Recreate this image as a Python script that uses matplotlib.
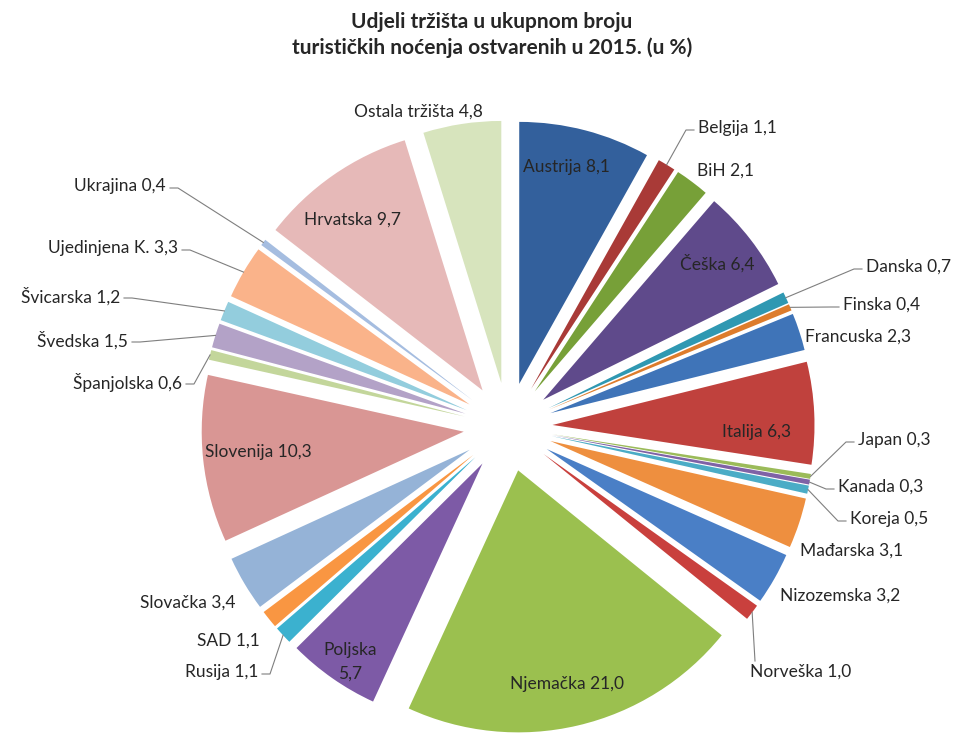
import numpy as np
import matplotlib.pyplot as plt

plt.rcParams['font.family'] = ['Lato', 'DejaVu Sans']

markets = ["Austrija", "Belgija", "BiH", "Češka", "Danska", "Finska", "Francuska",
           "Italija", "Japan", "Kanada", "Koreja", "Mađarska", "Nizozemska",
           "Norveška", "Njemačka", "Poljska", "Rusija", "SAD", "Slovačka",
           "Slovenija", "Španjolska", "Švedska", "Švicarska", "Ujedinjena K.",
           "Ukrajina", "Hrvatska", "Ostala tržišta"]
shares = [8.1, 1.1, 2.1, 6.4, 0.7, 0.4, 2.3,
          6.3, 0.3, 0.3, 0.5, 3.1, 3.2,
          1.0, 21.0, 5.7, 1.1, 1.1, 3.4,
          10.3, 0.6, 1.5, 1.2, 3.3,
          0.4, 9.7, 4.8]
colors = ["#33609c", "#a93a37", "#77a038", "#5f4a8b", "#2f98b2", "#dd7c2c", "#3f74b8",
          "#c0413d", "#9bbb59", "#7f62a6", "#4bacc6", "#ee8f3f", "#4a7fc6",
          "#c9403d", "#9bc04f", "#7d5aa6", "#3bb1cf", "#f99642", "#95b3d7",
          "#d99694", "#c3d69b", "#b3a2c7", "#93cddd", "#fab38a",
          "#a5bde0", "#e6b9b8", "#d7e4bd"]

# pie geometry in figure pixels (origin top-left)
W, H = 956, 738
CX, CY, R = 508, 427, 262
EXPLODE = 0.17

# label placement: (x, y, horizontal alignment, leader line drawn?)
layout = {
    "Austrija": (566, 167, "center", False),
    "Belgija": (698, 128, "left", True),
    "BiH": (697, 171, "left", False),
    "Češka": (717, 263, "center", False),
    "Danska": (866, 267, "left", True),
    "Finska": (843, 305, "left", True),
    "Francuska": (805, 337, "left", False),
    "Italija": (757, 432, "center", False),
    "Japan": (858, 440, "left", True),
    "Kanada": (838, 487, "left", True),
    "Koreja": (850, 519, "left", True),
    "Mađarska": (800, 551, "left", False),
    "Nizozemska": (780, 596, "left", False),
    "Norveška": (750, 672, "left", True),
    "Njemačka": (567, 684, "center", False),
    "Poljska": (350, 662, "center", False),
    "Rusija": (258, 672, "right", True),
    "SAD": (260, 641, "right", False),
    "Slovačka": (236, 603, "right", False),
    "Slovenija": (258, 452, "center", False),
    "Španjolska": (182, 382, "right", True),
    "Švedska": (128, 340, "right", True),
    "Švicarska": (120, 296, "right", True),
    "Ujedinjena K.": (178, 248, "right", True),
    "Ukrajina": (166, 186, "right", True),
    "Hrvatska": (352, 220, "center", False),
    "Ostala tržišta": (418, 112, "center", False),
}


def to_data(px, py):
    return (px - CX) / R, (CY - py) / R


fig = plt.figure(figsize=(W / 100, H / 100), dpi=100)
ax = fig.add_axes([0, 0, 1, 1])
ax.pie(shares, colors=colors, startangle=90, counterclock=False,
       explode=[EXPLODE] * len(shares), radius=1,
       wedgeprops=dict(linewidth=0))
ax.set_xlim(to_data(0, 0)[0], to_data(W, 0)[0])
ax.set_ylim(to_data(0, H)[1], to_data(0, 0)[1])
ax.set_aspect('auto')
ax.axis('off')

total = sum(shares)
cum = 0.0
for name, val in zip(markets, shares):
    mid = np.deg2rad(90 - 360 * (cum + val / 2) / total)
    cum += val
    value = f"{val:.1f}".replace(".", ",")
    sep = "\n" if name == "Poljska" else " "
    px, py, ha, leader = layout[name]
    tx, ty = to_data(px, py)
    ax.text(tx, ty, name + sep + value, ha=ha, va="center", fontsize=12.5,
            color="#262626", linespacing=1.6)
    if leader:
        ax_, ay_ = (1 + EXPLODE) * np.cos(mid), (1 + EXPLODE) * np.sin(mid)
        if name == "Norveška":
            ex, ey = to_data(px + 5, py - 11)
            ax.plot([ax_, ex], [ay_, ey], color="#7f7f7f", lw=0.8)
            continue
        off = -4 if ha == "left" else 4
        ex, ey = to_data(px + off, py + 2)
        sx, sy = to_data(px + 3 * off, py + 2)
        ax.plot([ax_, sx, ex], [ay_, sy, ey], color="#7f7f7f", lw=0.8)

fig.text(492 / W, 1 - 35 / H,
         "Udjeli tržišta u ukupnom broju\nturističkih noćenja ostvarenih u 2015. (u %)",
         ha="center", va="center", fontsize=15, fontweight="bold",
         color="#262626", linespacing=1.35)

fig.savefig("out.png", dpi=100, facecolor="white")
